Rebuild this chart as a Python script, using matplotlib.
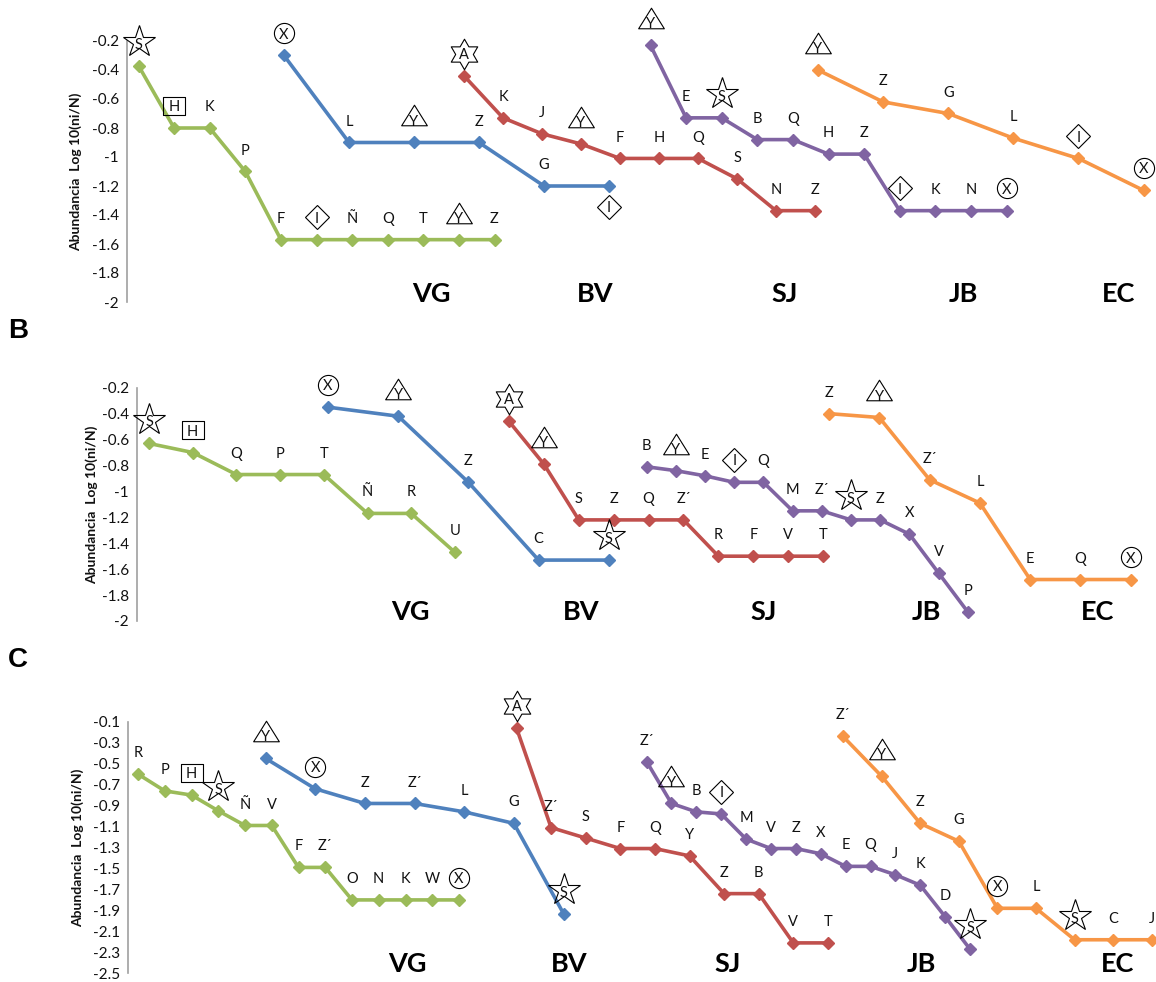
import numpy as np
import matplotlib
matplotlib.use("Agg")
import matplotlib.pyplot as plt
from matplotlib.path import Path
from matplotlib.transforms import offset_copy

plt.rcParams['font.family'] = ['Lato', 'DejaVu Sans']

# ---------------- data ----------------
SITES = ["VG", "BV", "SJ", "JB", "EC"]
# label codes: *S star, [H] box, (X) circle, ^Y triangle, <I> diamond, #A hexagram

# Panel A
A_VG_lab = ["*S", "[H]", "K", "P", "F", "<I>", "Ñ", "Q", "T", "^Y", "Z"]
A_VG_val = [-0.37, -0.80, -0.80, -1.10, -1.57, -1.57, -1.57, -1.57, -1.57, -1.57, -1.57]
A_BV_lab = ["(X)", "L", "^Y", "Z", "G", "<I>"]
A_BV_val = [-0.30, -0.90, -0.90, -0.90, -1.20, -1.20]
A_SJ_lab = ["#A", "K", "J", "^Y", "F", "H", "Q", "S", "N", "Z"]
A_SJ_val = [-0.44, -0.73, -0.84, -0.91, -1.01, -1.01, -1.01, -1.15, -1.37, -1.37]
A_JB_lab = ["^Y", "E", "*S", "B", "Q", "H", "Z", "<I>", "K", "N", "(X)"]
A_JB_val = [-0.23, -0.73, -0.73, -0.88, -0.88, -0.98, -0.98, -1.37, -1.37, -1.37, -1.37]
A_EC_lab = ["^Y", "Z", "G", "L", "<I>", "(X)"]
A_EC_val = [-0.40, -0.62, -0.70, -0.87, -1.01, -1.23]

# Panel B
B_VG_lab = ["*S", "[H]", "Q", "P", "T", "Ñ", "R", "U"]
B_VG_val = [-0.63, -0.70, -0.87, -0.87, -0.87, -1.17, -1.17, -1.47]
B_BV_lab = ["(X)", "^Y", "Z", "C", "*S"]
B_BV_val = [-0.35, -0.42, -0.93, -1.53, -1.53]
B_SJ_lab = ["#A", "^Y", "S", "Z", "Q", "Z´", "R", "F", "V", "T"]
B_SJ_val = [-0.46, -0.79, -1.22, -1.22, -1.22, -1.22, -1.50, -1.50, -1.50, -1.50]
B_JB_lab = ["B", "^Y", "E", "<I>", "Q", "M", "Z´", "*S", "Z", "X", "V", "P"]
B_JB_val = [-0.81, -0.84, -0.88, -0.93, -0.93, -1.15, -1.15, -1.22, -1.22, -1.33, -1.63, -1.93]
B_EC_lab = ["Z", "^Y", "Z´", "L", "E", "Q", "(X)"]
B_EC_val = [-0.40, -0.43, -0.91, -1.09, -1.68, -1.68, -1.68]

# Panel C
C_VG_lab = ["R", "P", "[H]", "*S", "Ñ", "V", "F", "Z´", "O", "N", "K", "W", "(X)"]
C_VG_val = [-0.60, -0.76, -0.80, -0.95, -1.09, -1.09, -1.49, -1.49, -1.80, -1.80, -1.80, -1.80, -1.80]
C_BV_lab = ["^Y", "(X)", "Z", "Z´", "L", "G", "*S"]
C_BV_val = [-0.45, -0.74, -0.88, -0.88, -0.96, -1.07, -1.93]
C_SJ_lab = ["#A", "Z´", "S", "F", "Q", "Y", "Z", "B", "V", "T"]
C_SJ_val = [-0.16, -1.11, -1.21, -1.31, -1.31, -1.38, -1.74, -1.74, -2.21, -2.21]
C_JB_lab = ["Z´", "^Y", "B", "<I>", "M", "V", "Z", "X", "E", "Q", "J", "K", "D", "*S"]
C_JB_val = [-0.48, -0.88, -0.96, -0.98, -1.22, -1.31, -1.31, -1.36, -1.48, -1.48, -1.56, -1.66, -1.96, -2.27]
C_EC_lab = ["Z´", "^Y", "Z", "G", "(X)", "L", "*S", "C", "J"]
C_EC_val = [-0.24, -0.62, -1.07, -1.24, -1.88, -1.88, -2.18, -2.18, -2.18]

A_TICKS = [-2.0, -1.8, -1.6, -1.4, -1.2, -1.0, -0.8, -0.6, -0.4, -0.2]
B_TICKS = [-2.0, -1.8, -1.6, -1.4, -1.2, -1.0, -0.8, -0.6, -0.4, -0.2]
C_TICKS = [-2.5, -2.3, -2.1, -1.9, -1.7, -1.5, -1.3, -1.1, -0.9, -0.7, -0.5, -0.3, -0.1]
Y_LABEL = "Abundancia  Log 10(ni/N)"

DATA = {
    "A": {"VG": (A_VG_lab, A_VG_val), "BV": (A_BV_lab, A_BV_val), "SJ": (A_SJ_lab, A_SJ_val),
          "JB": (A_JB_lab, A_JB_val), "EC": (A_EC_lab, A_EC_val)},
    "B": {"VG": (B_VG_lab, B_VG_val), "BV": (B_BV_lab, B_BV_val), "SJ": (B_SJ_lab, B_SJ_val),
          "JB": (B_JB_lab, B_JB_val), "EC": (B_EC_lab, B_EC_val)},
    "C": {"VG": (C_VG_lab, C_VG_val), "BV": (C_BV_lab, C_BV_val), "SJ": (C_SJ_lab, C_SJ_val),
          "JB": (C_JB_lab, C_JB_val), "EC": (C_EC_lab, C_EC_val)},
}
TICKS = {"A": A_TICKS, "B": B_TICKS, "C": C_TICKS}

# ---------------- layout / style ----------------
W, H = 1156, 982
COLORS = {"VG": "#9BBB59", "BV": "#4F81BD", "SJ": "#C0504D", "JB": "#8064A2", "EC": "#F79646"}

PANEL = {
    "A": dict(ax_x=127, top_px=41.0, bot_px=302.0, ylab_x=76, grp_y=301.5, letter=None),
    "B": dict(ax_x=137, top_px=387.7, bot_px=621.0, ylab_x=92, grp_y=620.5, letter=("B", 18, 331)),
    "C": dict(ax_x=128, top_px=721.7, bot_px=973.3, ylab_x=78, grp_y=972.0, letter=("C", 18, 660)),
}
XLAY = {
    "A": {"VG": (138.5, 35.6), "BV": (284, 65.0), "SJ": (464, 39.0), "JB": (650.5, 35.6), "EC": (818, 65.1)},
    "B": {"VG": (149, 43.7), "BV": (328, 70.2), "SJ": (509, 34.9), "JB": (646.6, 29.2), "EC": (829, 50.3)},
    "C": {"VG": (138, 26.75), "BV": (265.6, 49.65), "SJ": (516.5, 34.6), "JB": (646.6, 24.88), "EC": (843, 38.6)},
}
GROUP_X = {
    "A": [431, 595, 785, 963, 1119],
    "B": [410, 581, 764, 926, 1098],
    "C": [407, 569, 728, 921, 1118],
}
LABEL_BELOW = {("A", "BV", 5)}

tri_path = Path([(0, 0.8), (-1, -0.8), (1, -0.8), (0, 0.8)],
                [Path.MOVETO, Path.LINETO, Path.LINETO, Path.CLOSEPOLY])
box_path = Path([(-1, -0.78), (1, -0.78), (1, 0.78), (-1, 0.78), (-1, -0.78)],
                [Path.MOVETO, Path.LINETO, Path.LINETO, Path.LINETO, Path.CLOSEPOLY])
hex_path = Path.unit_regular_star(6, 0.577)
SHAPES = {
    "*": ("*", 24, 1.2),
    "#": (hex_path, 22, 0.0),
    "^": (tri_path, 18.5, 3.5),
    "(": ("o", 14.5, 0.0),
    "[": (box_path, 16, 0.0),
    "<": ("D", 12, 0.0),
}

LBL_FS = 10.5
CAP_HALF = 3.8


def parse(lab):
    if lab[0] in "*#^":
        return lab[0], lab[1:]
    if lab[0] in "([<":
        return lab[0], lab[1:-1]
    return None, lab


fig = plt.figure(figsize=(W / 100, H / 100), dpi=100)

for pk in ["A", "B", "C"]:
    p = PANEL[pk]
    left = p["ax_x"] / W
    width = 1 - left
    bottom = 1 - p["bot_px"] / H
    height = (p["bot_px"] - p["top_px"]) / H
    ax = fig.add_axes([left, bottom, width, height])
    ax.set_autoscale_on(False)
    ax.patch.set_visible(False)
    ticks = TICKS[pk]
    ax.set_xlim(p["ax_x"], W)
    ax.set_ylim(ticks[0], ticks[-1])

    for site in SITES:
        labs, vals = DATA[pk][site]
        x0, dx = XLAY[pk][site]
        xs = x0 + dx * np.arange(len(vals))
        ax.plot(xs, vals, color=COLORS[site], lw=2.6, marker="D", ms=6.5,
                mec=COLORS[site], mfc=COLORS[site], clip_on=False, zorder=3,
                solid_joinstyle="round")
        for i, (x, y, lab) in enumerate(zip(xs, vals, labs)):
            shape, letter = parse(lab)
            dy = -15 if (pk, site, i) in LABEL_BELOW else 16
            ax.text(x, y, letter, ha="center", va="baseline", fontsize=LBL_FS,
                    color="#111111", zorder=6, clip_on=False,
                    transform=offset_copy(ax.transData, fig=fig, x=0, y=dy - CAP_HALF, units="points"))
            if shape:
                m, ms, ysh = SHAPES[shape]
                ax.plot([x], [y], marker=m, ms=ms, mfc="none", mec="black", mew=0.8,
                        ls="none", clip_on=False, zorder=6,
                        transform=offset_copy(ax.transData, fig=fig, x=0, y=dy + ysh, units="points"))

    ax.set_xlim(p["ax_x"], W)
    ax.set_ylim(ticks[0], ticks[-1])
    ax.set_yticks(ticks)
    ax.set_yticklabels([f"{round(t, 1):g}" for t in ticks])
    ax.tick_params(axis="y", length=0, pad=6, labelsize=11, labelcolor="#111111")
    ax.set_xticks([])
    for s in ["top", "right", "bottom"]:
        ax.spines[s].set_visible(False)
    ax.spines["left"].set_color("#A0A0A0")
    ax.spines["left"].set_linewidth(1.2)

    fig.text(p["ylab_x"] / W, 1 - (p["top_px"] + p["bot_px"]) / 2 / H, Y_LABEL,
             rotation=90, ha="center", va="center", fontsize=10, fontweight="bold",
             color="#111111")
    for site, gx in zip(SITES, GROUP_X[pk]):
        fig.text(gx / W, 1 - p["grp_y"] / H, site, ha="center", va="baseline",
                 fontsize=19.5, fontweight="bold", color="#000000")
    if p["letter"]:
        t, lx, ly = p["letter"]
        fig.text(lx / W, 1 - ly / H, t, ha="center", va="center", fontsize=20,
                 fontweight="bold", family=["Liberation Sans", "DejaVu Sans"])

fig.savefig("out.png", dpi=100, facecolor="white")
